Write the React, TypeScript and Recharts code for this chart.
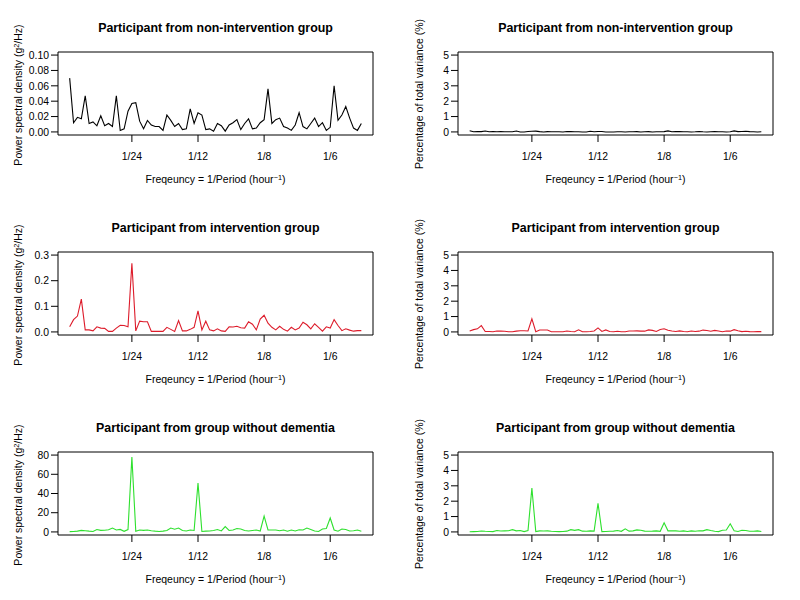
import React from "react";
import {
  LineChart,
  Line,
  XAxis,
  YAxis,
  ReferenceArea,
} from "recharts";

// recording length in hours; frequency of harmonic k = k / recordHours
const recordHours = 408;

const freqTicks = [1 / 24, 1 / 12, 1 / 8, 1 / 6];
const freqTickLabels = ["1/24", "1/12", "1/8", "1/6"];

// power spectral density (g^2/Hz)
const psdNonIntervention = [
  0.070, 0.012, 0.019, 0.017, 0.047, 0.011, 0.013, 0.008, 0.021, 0.008,
  0.011, 0.007, 0.047, 0.002, 0.004, 0.027, 0.037, 0.038, 0.014, 0.004,
  0.015, 0.009, 0.007, 0.007, 0.002, 0.022, 0.015, 0.007, 0.011, 0.003,
  0.004, 0.030, 0.011, 0.025, 0.022, 0.003, 0.004, 0.001, 0.011, 0.008,
  0.001, 0.009, 0.012, 0.016, 0.003, 0.011, 0.017, 0.004, 0.005, 0.012,
  0.016, 0.056, 0.011, 0.016, 0.018, 0.007, 0.005, 0.002, 0.009, 0.025,
  0.007, 0.004, 0.011, 0.018, 0.007, 0.012, 0.002, 0.006, 0.060, 0.015,
  0.022, 0.033, 0.018, 0.005, 0.002, 0.011,
];

const psdIntervention = [
  0.020, 0.048, 0.062, 0.128, 0.008, 0.008, 0.004, 0.020, 0.015, 0.014,
  0.002, 0.002, 0.015, 0.026, 0.025, 0.020, 0.268, 0.004, 0.042, 0.040,
  0.040, 0.002, 0.002, 0.002, 0.002, 0.018, 0.010, 0.002, 0.044, 0.004,
  0.004, 0.010, 0.018, 0.082, 0.008, 0.042, 0.008, 0.004, 0.012, 0.004,
  0.002, 0.020, 0.019, 0.022, 0.016, 0.015, 0.040, 0.030, 0.008, 0.050,
  0.065, 0.034, 0.018, 0.008, 0.022, 0.010, 0.003, 0.018, 0.008, 0.015,
  0.038, 0.028, 0.012, 0.032, 0.018, 0.003, 0.020, 0.015, 0.048, 0.025,
  0.005, 0.012, 0.007, 0.003, 0.005, 0.005,
];

const psdNoDementia = [
  0.3, 0.5, 0.8, 1.6, 1.2, 0.8, 0.5, 2.5, 1.6, 1.8,
  2.2, 4.0, 2.0, 2.6, 0.6, 2.4, 78, 0.6, 2.0, 1.6,
  2.0, 1.2, 0.8, 0.5, 0.8, 1.5, 4.0, 2.8, 4.0, 1.5,
  1.0, 2.0, 1.5, 51, 0.5, 0.8, 1.0, 1.5, 2.5, 1.0,
  5.5, 1.5, 2.0, 3.5, 3.0, 1.5, 1.0, 1.5, 2.0, 1.0,
  16.5, 2.0, 2.0, 2.0, 1.2, 2.0, 0.8, 2.0, 1.0, 2.2,
  2.0, 4.0, 2.5, 1.0, 0.5, 3.0, 3.5, 14.5, 2.0, 0.8,
  3.0, 2.5, 1.0, 1.2, 2.0, 0.8,
];

// percentage of total variance (%)
const pctNonIntervention = [
  0.08, 0.01, 0.02, 0.02, 0.06, 0.01, 0.02, 0.01, 0.03, 0.01,
  0.01, 0.01, 0.06, 0.00, 0.00, 0.03, 0.04, 0.05, 0.02, 0.00,
  0.02, 0.01, 0.01, 0.01, 0.00, 0.03, 0.02, 0.01, 0.01, 0.00,
  0.00, 0.04, 0.01, 0.03, 0.03, 0.00, 0.00, 0.00, 0.01, 0.01,
  0.00, 0.01, 0.01, 0.02, 0.00, 0.01, 0.02, 0.00, 0.01, 0.01,
  0.02, 0.07, 0.01, 0.02, 0.02, 0.01, 0.01, 0.00, 0.01, 0.03,
  0.01, 0.00, 0.01, 0.02, 0.01, 0.01, 0.00, 0.01, 0.07, 0.02,
  0.03, 0.04, 0.02, 0.01, 0.00, 0.01,
];

const pctIntervention = [
  0.06, 0.15, 0.20, 0.41, 0.03, 0.03, 0.01, 0.06, 0.05, 0.04,
  0.01, 0.01, 0.05, 0.08, 0.08, 0.06, 0.85, 0.01, 0.13, 0.13,
  0.13, 0.01, 0.01, 0.01, 0.01, 0.06, 0.03, 0.01, 0.14, 0.01,
  0.01, 0.03, 0.06, 0.26, 0.03, 0.13, 0.03, 0.01, 0.04, 0.01,
  0.01, 0.06, 0.06, 0.07, 0.05, 0.05, 0.13, 0.10, 0.03, 0.16,
  0.21, 0.11, 0.06, 0.03, 0.07, 0.03, 0.01, 0.06, 0.03, 0.05,
  0.12, 0.09, 0.04, 0.10, 0.06, 0.01, 0.06, 0.05, 0.15, 0.08,
  0.02, 0.04, 0.02, 0.01, 0.02, 0.02,
];

const pctNoDementia = [
  0.01, 0.02, 0.03, 0.06, 0.04, 0.03, 0.02, 0.09, 0.06, 0.07,
  0.08, 0.15, 0.07, 0.09, 0.02, 0.09, 2.85, 0.02, 0.07, 0.06,
  0.07, 0.04, 0.03, 0.02, 0.03, 0.05, 0.15, 0.10, 0.15, 0.05,
  0.04, 0.07, 0.05, 1.86, 0.02, 0.03, 0.04, 0.05, 0.09, 0.04,
  0.20, 0.05, 0.07, 0.13, 0.11, 0.05, 0.04, 0.05, 0.07, 0.04,
  0.60, 0.07, 0.07, 0.07, 0.04, 0.07, 0.03, 0.07, 0.04, 0.08,
  0.07, 0.15, 0.09, 0.04, 0.02, 0.11, 0.13, 0.53, 0.07, 0.03,
  0.11, 0.09, 0.04, 0.04, 0.07, 0.03,
];

const FONT = '"Liberation Sans", Arial, Helvetica, sans-serif';
const N = psdNonIntervention.length;
const xMin = (1 - 0.04 * (N - 1)) / recordHours;
const xMax = (N + 0.04 * (N - 1)) / recordHours;

const toRows = (vals: number[]) =>
  vals.map((v, i) => ({ f: (i + 1) / recordHours, v }));

const Sup = ({ children }: { children: React.ReactNode }) => (
  <span style={{ fontSize: "0.7em", position: "relative", top: "-0.45em" }}>
    {children}
  </span>
);

type PanelProps = {
  title: string;
  yLabel: React.ReactNode;
  values: number[];
  color: string;
  yTicks: number[];
  digits: number;
};

const Panel: React.FC<PanelProps> = ({ title, yLabel, values, color, yTicks, digits }) => {
  const lo = yTicks[0];
  const hi = yTicks[yTicks.length - 1];
  const pad = (hi - lo) * 0.04;
  const yDom: [number, number] = [lo - pad, hi + pad];
  const tickFont = { fill: "#000", fontSize: 10.4, fontFamily: FONT };
  return (
    <div style={{ position: "relative", width: 400, height: 200 }}>
      <LineChart
        width={400}
        height={200}
        data={toRows(values)}
        margin={{ top: 52, right: 27, left: 0, bottom: 0 }}
      >
        <XAxis
          dataKey="f"
          type="number"
          domain={[xMin, xMax]}
          allowDataOverflow
          ticks={freqTicks}
          tickFormatter={(t: number) => {
            const i = freqTicks.findIndex((x) => Math.abs(x - t) < 1e-9);
            return i >= 0 ? freqTickLabels[i] : "";
          }}
          height={65}
          axisLine={false}
          tickSize={7}
          tickMargin={11}
          tickLine={{ stroke: "#000" }}
          tick={tickFont}
          interval={0}
        />
        <YAxis
          type="number"
          domain={yDom}
          allowDataOverflow
          ticks={yTicks}
          tickFormatter={(t: number) => t.toFixed(digits)}
          width={58}
          axisLine={false}
          tickSize={7}
          tickMargin={2}
          tickLine={{ stroke: "#000" }}
          tick={tickFont}
          interval={0}
        />
        <ReferenceArea
          x1={xMin}
          x2={xMax}
          y1={yDom[0]}
          y2={yDom[1]}
          fill="none"
          stroke="#000"
          strokeWidth={1}
        />
        <Line
          type="linear"
          dataKey="v"
          stroke={color}
          strokeWidth={1.1}
          dot={false}
          isAnimationActive={false}
        />
      </LineChart>
      <div
        style={{
          position: "absolute",
          left: 58,
          width: 315,
          top: 21,
          lineHeight: "15px",
          textAlign: "center",
          fontWeight: "bold",
          fontSize: 12.4,
          fontFamily: FONT,
        }}
      >
        {title}
      </div>
      <div
        style={{
          position: "absolute",
          left: 58,
          width: 315,
          top: 172,
          lineHeight: "14px",
          textAlign: "center",
          fontSize: 10.5,
          fontFamily: FONT,
        }}
      >
        Freqeuncy = 1/Period (hour<Sup>−1</Sup>)
      </div>
      <div
        style={{
          position: "absolute",
          left: 18.5 - 110,
          top: 94 - 7,
          width: 220,
          lineHeight: "14px",
          textAlign: "center",
          fontSize: 10.5,
          fontFamily: FONT,
          transform: "rotate(-90deg)",
          whiteSpace: "nowrap",
        }}
      >
        {yLabel}
      </div>
    </div>
  );
};

const psdLabel = (
  <>
    Power spectral density (g<Sup>2</Sup>/Hz)
  </>
);
const pctLabel = "Percentage of total variance (%)";

const App: React.FC = () => {
  return (
    <div
      style={{
        position: "absolute",
        left: 0,
        top: 0,
        width: 800,
        height: 600,
        background: "#fff",
        display: "flex",
        flexWrap: "wrap",
        fontFamily: FONT,
      }}
    >
      <Panel
        title="Participant from non-intervention group"
        yLabel={psdLabel}
        values={psdNonIntervention}
        color="#000000"
        yTicks={[0, 0.02, 0.04, 0.06, 0.08, 0.1]}
        digits={2}
      />
      <Panel
        title="Participant from non-intervention group"
        yLabel={pctLabel}
        values={pctNonIntervention}
        color="#000000"
        yTicks={[0, 1, 2, 3, 4, 5]}
        digits={0}
      />
      <Panel
        title="Participant from intervention group"
        yLabel={psdLabel}
        values={psdIntervention}
        color="#dd1c2b"
        yTicks={[0, 0.1, 0.2, 0.3]}
        digits={1}
      />
      <Panel
        title="Participant from intervention group"
        yLabel={pctLabel}
        values={pctIntervention}
        color="#dd1c2b"
        yTicks={[0, 1, 2, 3, 4, 5]}
        digits={0}
      />
      <Panel
        title="Participant from group without dementia"
        yLabel={psdLabel}
        values={psdNoDementia}
        color="#2ee02e"
        yTicks={[0, 20, 40, 60, 80]}
        digits={0}
      />
      <Panel
        title="Participant from group without dementia"
        yLabel={pctLabel}
        values={pctNoDementia}
        color="#2ee02e"
        yTicks={[0, 1, 2, 3, 4, 5]}
        digits={0}
      />
    </div>
  );
};

export default App;
